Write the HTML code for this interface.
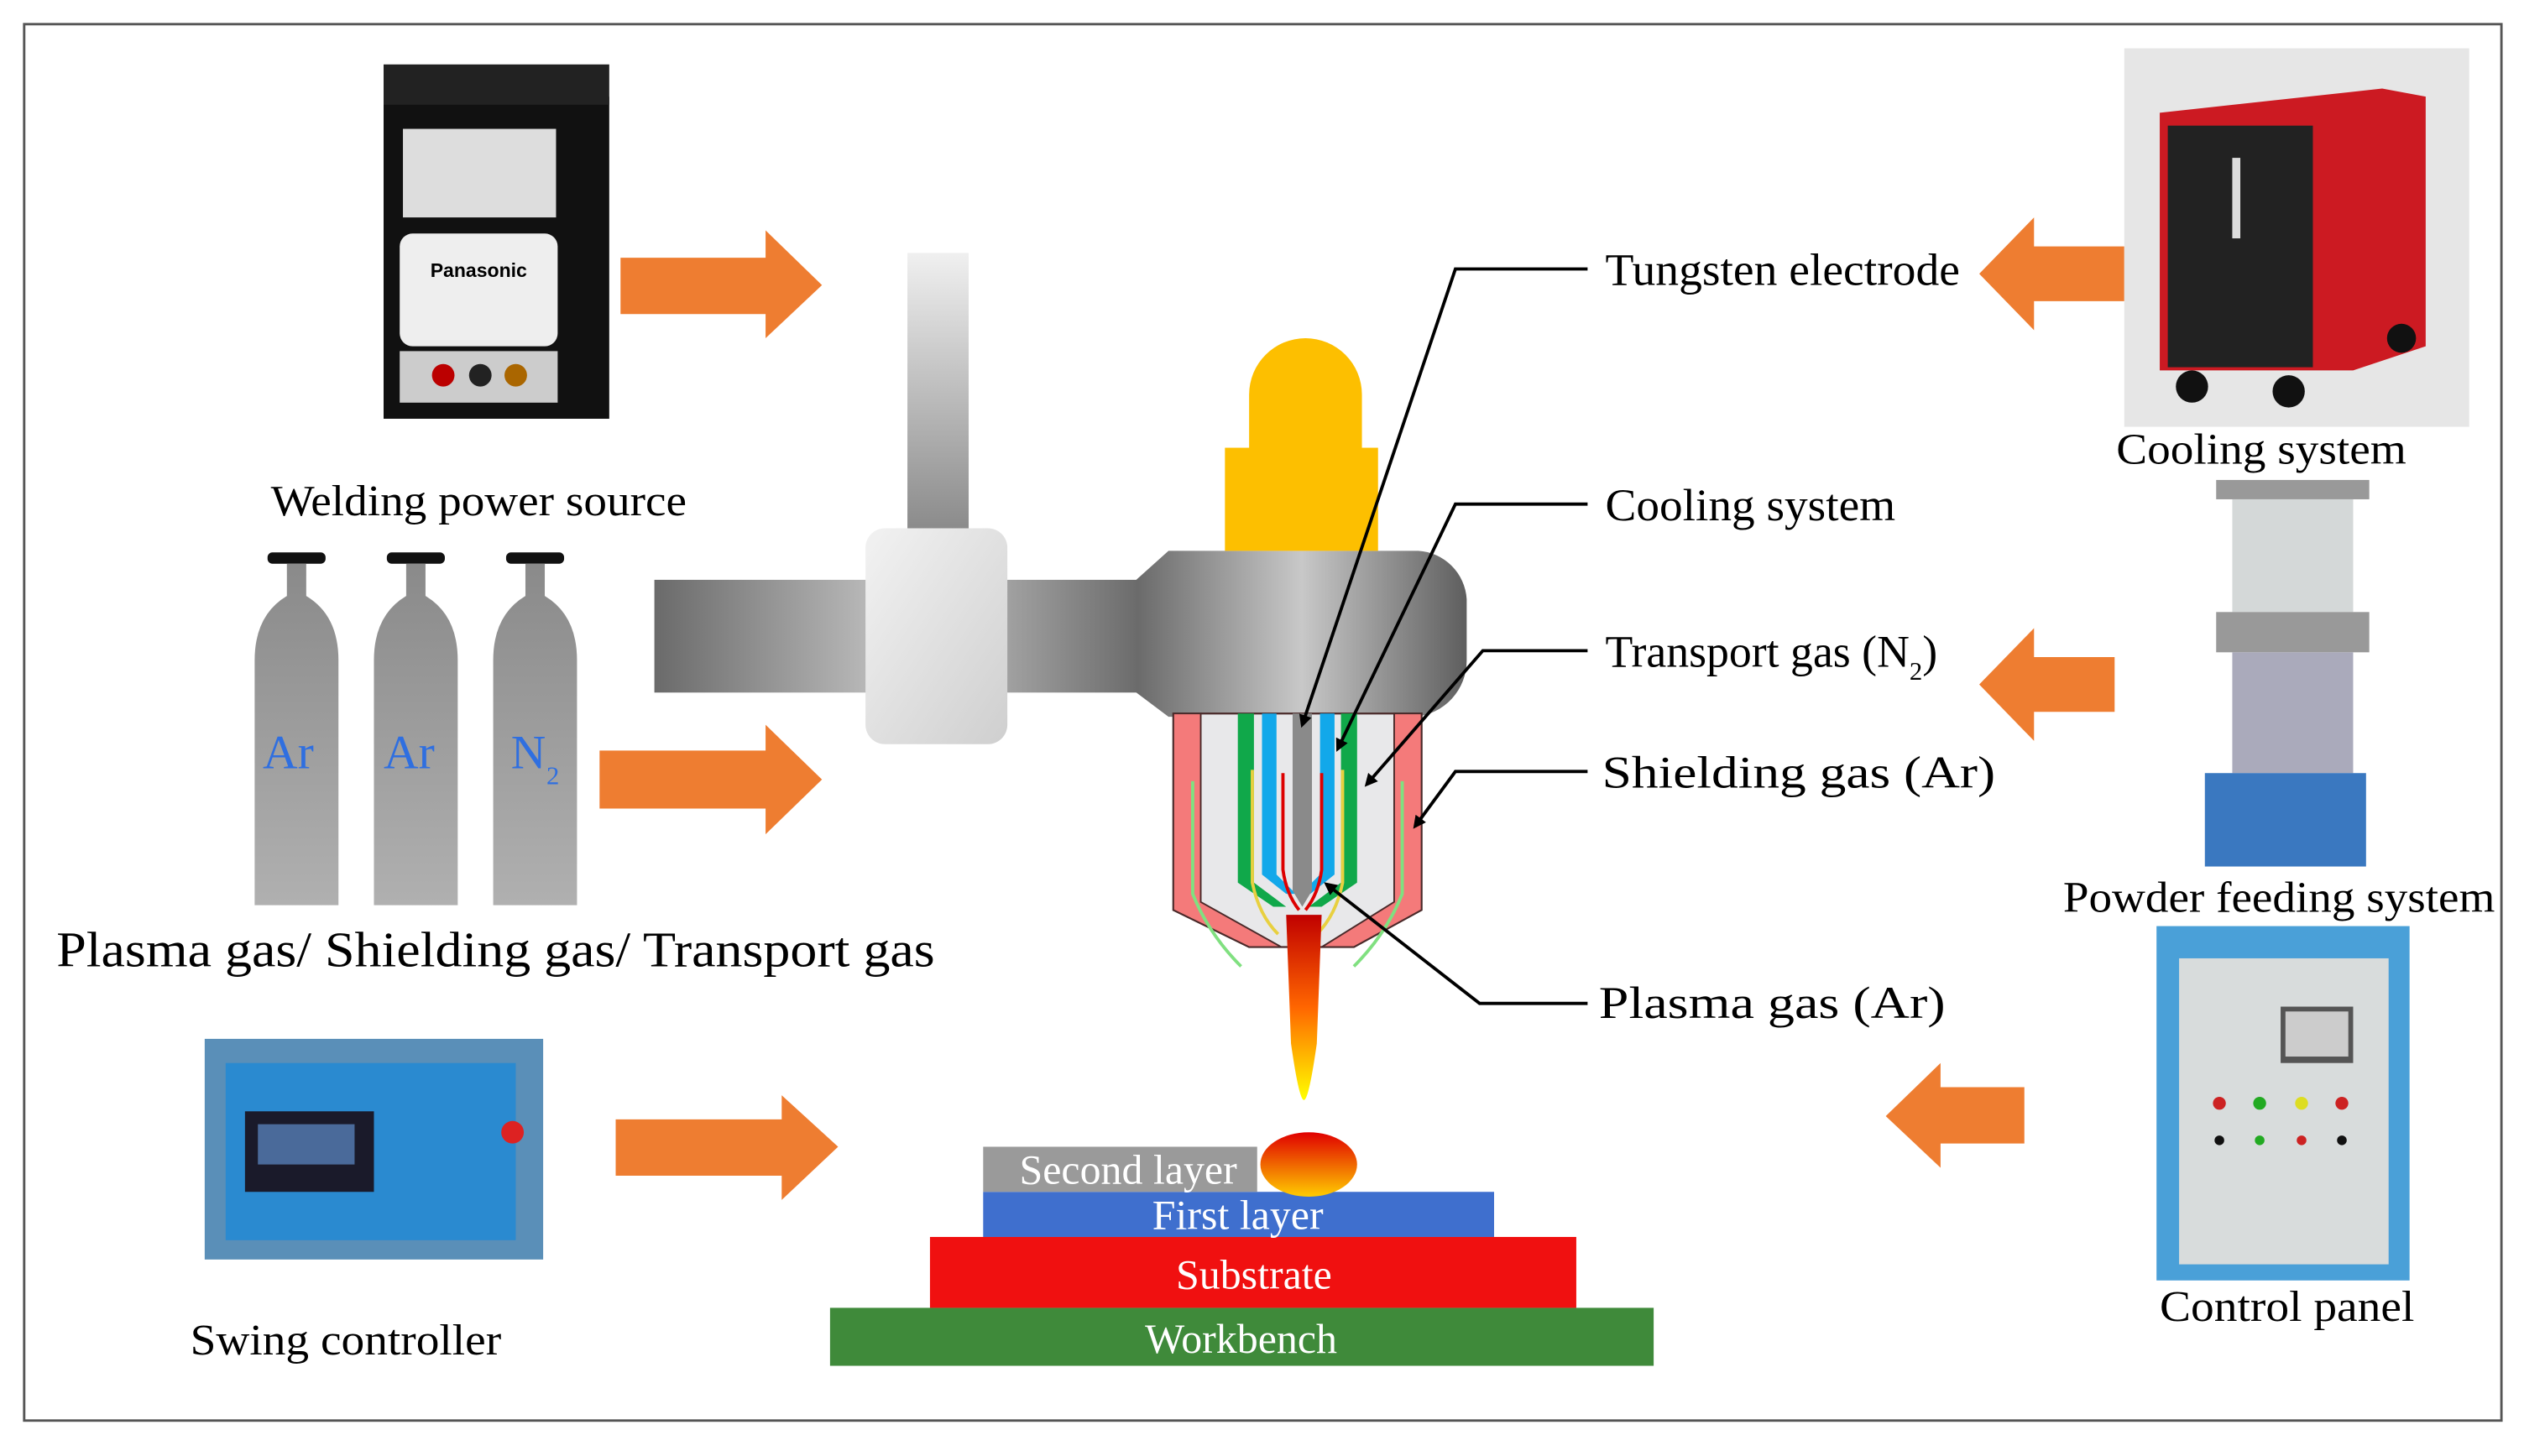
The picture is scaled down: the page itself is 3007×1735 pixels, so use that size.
<!DOCTYPE html>
<html><head><meta charset="utf-8"><style>html,body{margin:0;padding:0;background:#fff}svg{display:block}</style></head>
<body>
<svg width="3007" height="1735" viewBox="0 0 1566 904" preserveAspectRatio="none" xmlns="http://www.w3.org/2000/svg" font-family="Liberation Serif, serif">
<defs>
<linearGradient id="cyl" x1="0" y1="0" x2="0" y2="1"><stop offset="0" stop-color="#8a8a8a"/><stop offset="1" stop-color="#b0b0b0"/></linearGradient>
<linearGradient id="bar" x1="0" y1="0" x2="1" y2="0"><stop offset="0" stop-color="#6a6a6a"/><stop offset="0.5" stop-color="#c8c8c8"/><stop offset="1" stop-color="#5e5e5e"/></linearGradient>
<linearGradient id="vbar" x1="0" y1="0" x2="0" y2="1"><stop offset="0" stop-color="#f0f0f0"/><stop offset="1" stop-color="#8a8a8a"/></linearGradient>
<linearGradient id="clamp" x1="0" y1="0" x2="1" y2="1"><stop offset="0" stop-color="#f2f2f2"/><stop offset="1" stop-color="#cfcfcf"/></linearGradient>
<linearGradient id="flame" x1="0" y1="0" x2="0" y2="1"><stop offset="0" stop-color="#c00000"/><stop offset="0.5" stop-color="#ff6600"/><stop offset="1" stop-color="#ffff00"/></linearGradient>
<linearGradient id="blob" x1="0" y1="0" x2="0" y2="1"><stop offset="0" stop-color="#e00000"/><stop offset="1" stop-color="#ffcc00"/></linearGradient>
<marker id="ah" markerWidth="8" markerHeight="8" refX="6" refY="4" orient="auto" markerUnits="userSpaceOnUse"><path d="M0,0 L8,4 L0,8 Z" fill="#000"/></marker>
</defs>
<rect x="15" y="15" width="1537" height="867" fill="#fff" stroke="#555" stroke-width="1.5"/>

<!-- power source -->
<rect x="238" y="60" width="140" height="200" fill="#111"/>
<rect x="238" y="40" width="140" height="25" fill="#222"/>
<rect x="250" y="80" width="95" height="55" fill="#ddd"/>
<rect x="248" y="145" width="98" height="70" rx="8" fill="#eee"/>
<text x="297" y="172" font-size="12" font-family="Liberation Sans,sans-serif" font-weight="bold" text-anchor="middle">Panasonic</text>
<rect x="248" y="218" width="98" height="32" fill="#ccc"/>
<circle cx="275" cy="233" r="7" fill="#b00"/><circle cx="298" cy="233" r="7" fill="#222"/><circle cx="320" cy="233" r="7" fill="#a60"/>

<!-- orange arrows -->
<g fill="#ee7d31">
<path d="M385,160 H475 V143 L510,177 L475,210 V195 H385 Z"/>
<path d="M372,466 H475 V450 L510,484 L475,518 V502 H372 Z"/>
<path d="M382,695 H485 V680 L520,712 L485,745 V730 H382 Z"/>
<path d="M1318,153 H1262 V135 L1228,170 L1262,205 V187 H1318 Z"/>
<path d="M1312,408 H1262 V390 L1228,425 L1262,460 V442 H1312 Z"/>
<path d="M1256,675 H1204 V660 L1170,693 L1204,725 V710 H1256 Z"/>
</g>

<text x="168" y="320" font-size="27" textLength="258" lengthAdjust="spacingAndGlyphs">Welding power source</text>

<!-- cylinders -->
<g>
<rect x="166" y="343" width="36" height="7" rx="3" fill="#111"/>
<path d="M178,350 h12 v20 q20,12 20,40 v152 h-52 v-152 q0,-28 20,-40 z" fill="url(#cyl)"/>
<rect x="240" y="343" width="36" height="7" rx="3" fill="#111"/>
<path d="M252,350 h12 v20 q20,12 20,40 v152 h-52 v-152 q0,-28 20,-40 z" fill="url(#cyl)"/>
<rect x="314" y="343" width="36" height="7" rx="3" fill="#111"/>
<path d="M326,350 h12 v20 q20,12 20,40 v152 h-52 v-152 q0,-28 20,-40 z" fill="url(#cyl)"/>
</g>
<g fill="#2f6fe0" font-size="30">
<text x="163" y="477">Ar</text><text x="238" y="477">Ar</text><text x="317" y="477">N</text><text x="339" y="487" font-size="16">2</text>
</g>
<text x="35" y="600" font-size="31" textLength="545" lengthAdjust="spacingAndGlyphs">Plasma gas/ Shielding gas/ Transport gas</text>

<!-- swing controller -->
<rect x="127" y="645" width="210" height="137" fill="#5a8fb8"/>
<rect x="140" y="660" width="180" height="110" fill="#2a8ad0"/>
<rect x="152" y="690" width="80" height="50" fill="#1a1a2a"/>
<rect x="160" y="698" width="60" height="25" fill="#4a6a9a"/>
<circle cx="318" cy="703" r="7" fill="#d22"/>
<text x="118" y="841" font-size="27" textLength="193" lengthAdjust="spacingAndGlyphs">Swing controller</text>

<!-- torch structure -->
<rect x="563" y="157" width="38" height="173" fill="url(#vbar)"/>
<rect x="406" y="360" width="320" height="70" fill="url(#bar)"/>
<path d="M725,342 H880 A32,32 0 0 1 910,372 V410 A35,35 0 0 1 878,445 H725 L705,430 V360 Z" fill="url(#bar)"/>
<rect x="537" y="328" width="88" height="134" rx="12" fill="url(#clamp)"/>
<path d="M775,280 V245 A35,35 0 0 1 845,245 V280 Z" fill="#fdbf00"/>
<rect x="760" y="278" width="95" height="64" fill="#fdbf00"/>

<!-- nozzle -->
<path d="M728,443 H882 V565 L840,588 H775 L728,565 Z" fill="#e8e8ea" stroke="#4a2a2a" stroke-width="1.2"/>
<path d="M728,443 H745 V560 L795,588 H775 L728,565 Z" fill="#f47a7a" stroke="#4a2a2a" stroke-width="1"/>
<path d="M882,443 H865 V560 L820,588 H840 L882,565 Z" fill="#f47a7a" stroke="#4a2a2a" stroke-width="1"/>
<path d="M768,443 h10 v105 l20,15 h-8 l-22,-15 z" fill="#10a84a"/>
<path d="M842,443 h-10 v105 l-20,15 h8 l22,-15 z" fill="#10a84a"/>
<path d="M783,443 h9 v100 l12,12 h-6 l-15,-12 z" fill="#12a8ea"/>
<path d="M828,443 h-9 v100 l-12,12 h6 l15,-12 z" fill="#12a8ea"/>
<path d="M802,443 h12 v110 l-6,10 l-6,-10 z" fill="#8a8a8a"/>
<path d="M796,480 v60 q2,15 10,25" fill="none" stroke="#d00" stroke-width="2"/>
<path d="M820,480 v60 q-2,15 -10,25" fill="none" stroke="#d00" stroke-width="2"/>
<path d="M777,478 v70 q4,20 16,32" fill="none" stroke="#e8d040" stroke-width="2"/>
<path d="M833,478 v70 q-4,20 -16,32" fill="none" stroke="#e8d040" stroke-width="2"/>
<path d="M740,485 v70 q10,25 30,45" fill="none" stroke="#80e080" stroke-width="2"/>
<path d="M870,485 v70 q-10,25 -30,45" fill="none" stroke="#80e080" stroke-width="2"/>
<path d="M798,568 h22 l-3,80 q-5,35 -8,35 q-3,0 -8,-35 z" fill="url(#flame)"/>

<!-- leaders -->
<g fill="none" stroke="#000" stroke-width="2" marker-end="url(#ah)">
<polyline points="985,167 903,167 808,450"/>
<polyline points="985,313 903,313 830,465"/>
<polyline points="985,404 920,404 848,487"/>
<polyline points="985,479 903,479 878,513"/>
<polyline points="985,623 918,623 823,549"/>
</g>
<g font-size="28">
<text x="996" y="177" textLength="220" lengthAdjust="spacingAndGlyphs">Tungsten electrode</text>
<text x="996" y="323" textLength="180" lengthAdjust="spacingAndGlyphs">Cooling system</text>
<text x="996" y="414">Transport gas (N<tspan font-size="16" dy="8">2</tspan><tspan dy="-8">)</tspan></text>
<text x="994" y="489" textLength="244" lengthAdjust="spacingAndGlyphs">Shielding gas (Ar)</text>
<text x="992" y="632" textLength="215" lengthAdjust="spacingAndGlyphs">Plasma gas (Ar)</text>
</g>

<!-- layers -->
<rect x="515" y="812" width="511" height="36" fill="#3f8a3a"/>
<rect x="577" y="768" width="401" height="44" fill="#f01010"/>
<rect x="610" y="740" width="317" height="28" fill="#3f6fce"/>
<rect x="610" y="712" width="170" height="28" fill="#9a9a9a"/>
<ellipse cx="812" cy="723" rx="30" ry="20" fill="url(#blob)"/>
<g fill="#fff" font-size="26" text-anchor="middle">
<text x="700" y="735">Second layer</text>
<text x="768" y="763">First layer</text>
<text x="778" y="800">Substrate</text>
<text x="770" y="840">Workbench</text>
</g>

<!-- right photos -->
<rect x="1318" y="30" width="214" height="235" fill="#e6e6e6"/>
<path d="M1340,70 L1478,55 L1505,60 V215 L1460,230 H1340 Z" fill="#cc1a22"/>
<rect x="1345" y="78" width="90" height="150" fill="#222"/>
<rect x="1385" y="98" width="5" height="50" fill="#ddd"/>
<circle cx="1360" cy="240" r="10" fill="#111"/><circle cx="1420" cy="243" r="10" fill="#111"/><circle cx="1490" cy="210" r="9" fill="#111"/>
<text x="1313" y="288" font-size="27" textLength="180" lengthAdjust="spacingAndGlyphs">Cooling system</text>

<rect x="1375" y="298" width="95" height="12" fill="#999"/>
<rect x="1385" y="310" width="75" height="70" fill="#d4d8d8"/>
<rect x="1375" y="380" width="95" height="25" fill="#999"/>
<rect x="1385" y="405" width="75" height="75" fill="#aab"/>
<rect x="1368" y="480" width="100" height="58" fill="#3a78c0"/>
<text x="1280" y="566" font-size="27" textLength="268" lengthAdjust="spacingAndGlyphs">Powder feeding system</text>

<rect x="1338" y="575" width="157" height="220" fill="#4aa0d8"/>
<rect x="1352" y="595" width="130" height="190" fill="#d8dcdc"/>
<rect x="1415" y="625" width="45" height="35" fill="#555"/>
<rect x="1418" y="628" width="39" height="28" fill="#ccc"/>
<circle cx="1377" cy="685" r="4" fill="#c22"/><circle cx="1402" cy="685" r="4" fill="#2a2"/><circle cx="1428" cy="685" r="4" fill="#dd2"/><circle cx="1453" cy="685" r="4" fill="#c22"/>
<circle cx="1377" cy="708" r="3" fill="#111"/><circle cx="1402" cy="708" r="3" fill="#2a2"/><circle cx="1428" cy="708" r="3" fill="#c22"/><circle cx="1453" cy="708" r="3" fill="#111"/>
<text x="1340" y="820" font-size="27" textLength="158" lengthAdjust="spacingAndGlyphs">Control panel</text>
</svg>
</body></html>
